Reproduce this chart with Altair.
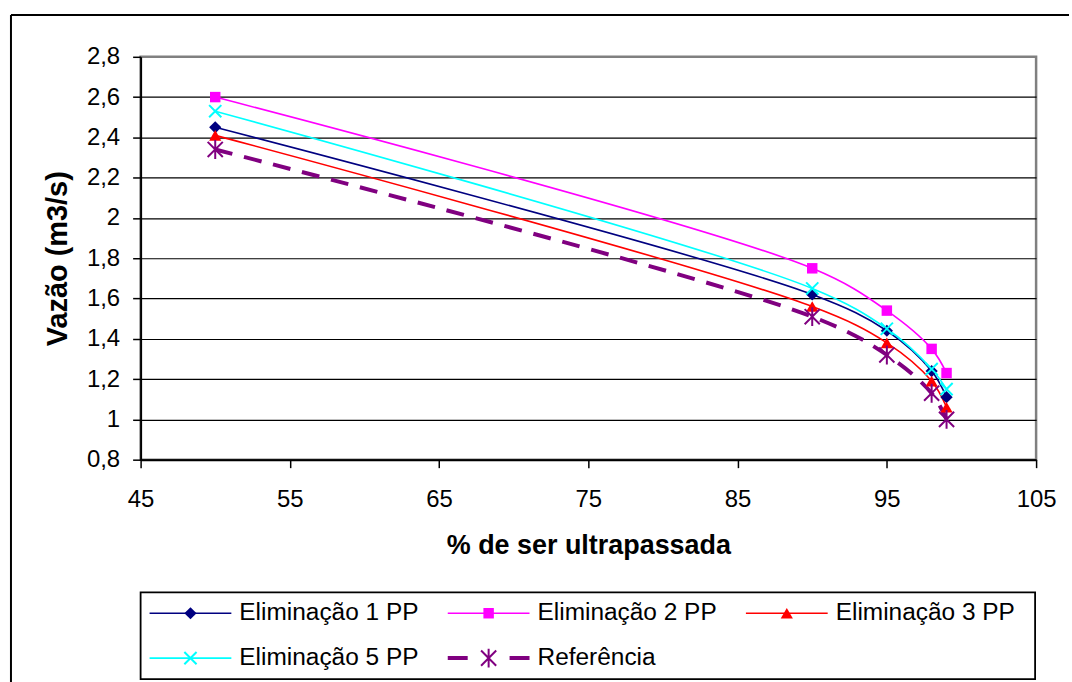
import altair as alt
import pandas as pd

FONT = "Liberation Sans"

# ---- data ----
x_pct = [50, 90, 95, 98, 99]
elim1 = [2.45, 1.62, 1.44, 1.24, 1.11]
elim2 = [2.60, 1.75, 1.54, 1.35, 1.23]
elim3 = [2.41, 1.56, 1.38, 1.19, 1.06]
elim5 = [2.53, 1.65, 1.45, 1.25, 1.15]
ref = [2.34, 1.51, 1.32, 1.13, 1.00]

series_names = ["Eliminação 1 PP", "Eliminação 2 PP", "Eliminação 3 PP",
                "Eliminação 5 PP", "Referência"]
series_values = [elim1, elim2, elim3, elim5, ref]

x_ticks = [45, 55, 65, 75, 85, 95, 105]
y_ticks = [0.8, 1.0, 1.2, 1.4, 1.6, 1.8, 2.0, 2.2, 2.4, 2.6, 2.8]

# ---- styles ----
XSHAPE = "M-1,-1L1,1M-1,1L1,-1"
ASTER = "M0,-1L0,1M-0.8,-0.8L0.8,0.8M-0.8,0.8L0.8,-0.8"
styles = [
    dict(color="#000080", shape="diamond", filled=True, size=150, lw=1.6, dash=None, ldash=None),
    dict(color="#FF00FF", shape="square", filled=True, size=110, lw=1.6, dash=None, ldash=None),
    dict(color="#FF0000", shape="triangle-up", filled=True, size=150, lw=1.6, dash=None, ldash=None),
    dict(color="#00FFFF", shape=XSHAPE, filled=False, size=150, lw=1.6, dash=None, ldash=None),
    dict(color="#800080", shape=ASTER, filled=False, size=360, lw=4, dash=[18, 12], ldash=[20, 42]),
]

rows = []
for name, vals in zip(series_names, series_values):
    for xv, yv in zip(x_pct, vals):
        rows.append({"series": name, "x": xv, "y": yv})
df = pd.DataFrame(rows)

X = alt.X("x:Q", scale=alt.Scale(domain=[45, 105], nice=False, zero=False),
          axis=alt.Axis(values=x_ticks, title="% de ser ultrapassada", grid=False,
                        tickSize=8, labelPadding=20, titlePadding=21,
                        labelFlush=False, titleFontSize=27))
Y = alt.Y("y:Q", scale=alt.Scale(domain=[0.8, 2.8], nice=False, zero=False),
          axis=alt.Axis(values=y_ticks, title="Vazão (m3/s)", grid=True,
                        gridColor="black", gridWidth=1.2,
                        gridOpacity={"condition": {"test": "datum.value > 2.79", "value": 0}, "value": 1},
                        labelExpr="replace(format(datum.value, '~g'), '.', ',')",
                        tickSize=8, labelPadding=13, titlePadding=14,
                        labelFlush=False, titleFontSize=29))

base = alt.Chart(df)
layers = []
for name, st in zip(series_names, styles):
    line_kw = dict(interpolate="catmull-rom", color=st["color"], strokeWidth=st["lw"])
    if st["dash"]:
        line_kw["strokeDash"] = st["dash"]
    layers.append(base.transform_filter(alt.datum.series == name)
                  .mark_line(**line_kw).encode(x=X, y=Y))
for name, st in zip(series_names, styles):
    pt_kw = dict(shape=st["shape"], size=st["size"], opacity=1, color=st["color"],
                 filled=st["filled"])
    if not st["filled"]:
        pt_kw["strokeWidth"] = 2
    layers.append(base.transform_filter(alt.datum.series == name)
                  .mark_point(**pt_kw).encode(x=X, y=Y))

frame_df = pd.DataFrame({"k": [0]})
frame_left = alt.Chart(frame_df).mark_rule(color="black", strokeWidth=2).encode(
    x=alt.value(-130), y=alt.value(-42), y2=alt.value(627))
frame_top = alt.Chart(frame_df).mark_rule(color="black", strokeWidth=2).encode(
    x=alt.value(-130), x2=alt.value(931), y=alt.value(-42))

main = alt.layer(*layers, frame_left, frame_top).properties(
    width=898, height=404,
    view=alt.ViewBackground(stroke="#808080", strokeWidth=2.5))

# ---- legend panel ----
leg_df = pd.DataFrame({"series": series_names,
                       "col": [i % 3 for i in range(len(series_names))],
                       "row": [i // 3 for i in range(len(series_names))]})
LX = alt.X("col:Q", scale=alt.Scale(domain=[0, 2], range=[9, 607]), axis=None)
LY = alt.Y("row:Q", scale=alt.Scale(domain=[0, 1], range=[21, 66]), axis=None)
lbase = alt.Chart(leg_df)
leg_layers = []
for name, st in zip(series_names, styles):
    rkw = dict(color=st["color"], strokeWidth=st["lw"], x2Offset=82)
    if st["ldash"]:
        rkw["strokeDash"] = st["ldash"]
    leg_layers.append(lbase.transform_filter(alt.datum.series == name)
                      .mark_rule(**rkw).encode(x=LX, x2="col:Q", y=LY))
    pkw = dict(shape=st["shape"], size=st["size"], opacity=1, color=st["color"],
               filled=st["filled"], xOffset=41)
    if not st["filled"]:
        pkw["strokeWidth"] = 2
    leg_layers.append(lbase.transform_filter(alt.datum.series == name)
                      .mark_point(**pkw).encode(x=LX, y=LY))
leg_layers.append(lbase.mark_text(align="left", baseline="middle", dx=90, fontSize=24.5,
                                  font=FONT, color="black")
                  .encode(x=LX, y=LY, text="series:N"))
legend = alt.layer(*leg_layers).properties(
    width=897, height=87,
    view=alt.ViewBackground(stroke="black", strokeWidth=1.8))

chart = alt.vconcat(main, legend, spacing=133, bounds="flush").properties(
    padding={"left": 8, "top": 11, "right": 0, "bottom": 0},
    background="white",
).configure(font=FONT).configure_axis(
    labelFont=FONT, titleFont=FONT, labelFontSize=24, titleFontWeight="bold",
    labelColor="black", titleColor="black", domainColor="black", tickColor="black",
    domainWidth=2, tickWidth=1.5,
)

chart.save("out.html", embed_options={"renderer": "svg", "actions": False})
